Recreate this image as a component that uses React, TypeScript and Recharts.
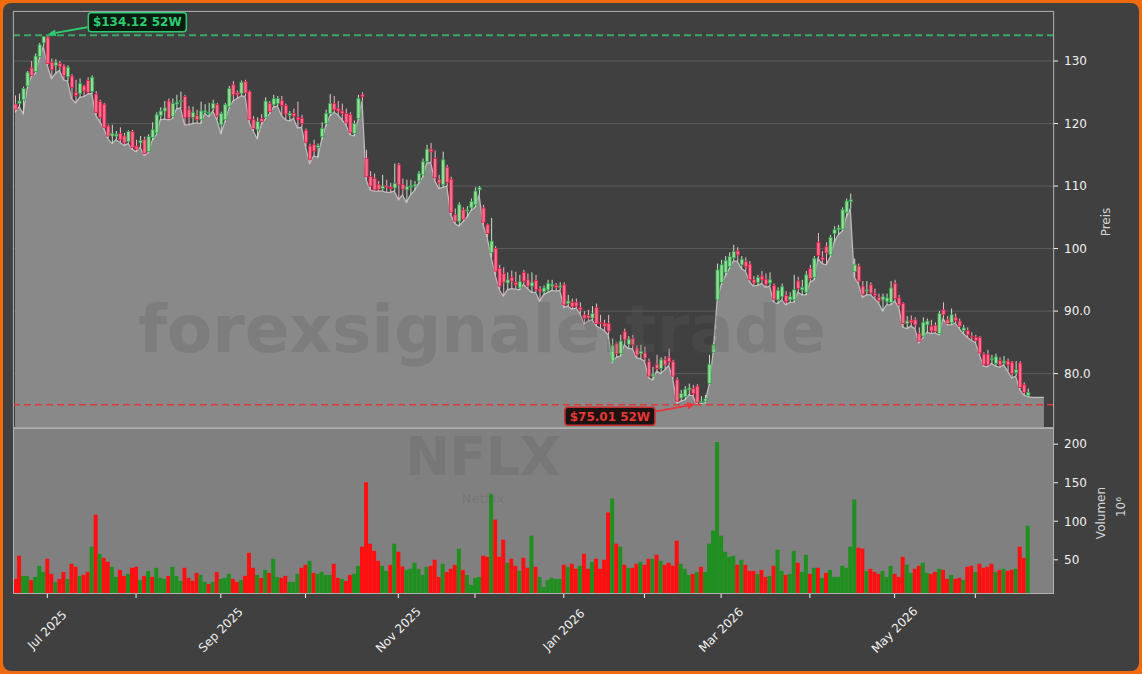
import React from 'react';
import {
  ComposedChart,
  Area,
  Bar,
  XAxis,
  YAxis,
  CartesianGrid,
  ReferenceLine,
  ReferenceDot,
  Cell,
} from 'recharts';

// ---------------- DATA ----------------
const openP = [
  123.1, 123.2, 123.8, 126.0, 128.9, 128.3, 130.7, 132.9, 133.8, 129.8,
  129.3, 129.6, 129.2, 127.5, 127.6, 125.0, 124.8, 126.0, 126.9, 125.1,
  124.7, 123.5, 123.1, 119.6, 118.0, 118.0, 118.4, 118.0, 117.1, 118.7,
  116.4, 116.9, 117.4, 115.5, 117.8, 118.5, 121.3, 122.0, 123.6, 121.1,
  123.1, 123.5, 124.3, 122.2, 121.0, 121.3, 120.6, 121.8, 121.6, 122.4,
  123.0, 119.8, 120.6, 122.7, 126.2, 124.9, 124.8, 126.7, 125.1, 120.6,
  119.0, 120.8, 121.0, 123.2, 123.0, 123.2, 123.7, 122.9, 121.3, 121.6,
  121.0, 120.8, 118.9, 116.4, 116.6, 116.2, 117.9, 120.0, 121.6, 123.2,
  122.4, 122.0, 121.6, 121.4, 118.4, 120.8, 124.6, 114.4, 111.5, 111.2,
  110.2, 109.6, 110.0, 109.8, 109.7, 113.4, 110.2, 109.4, 109.8, 110.0,
  110.8, 111.8, 113.9, 115.9, 114.4, 111.0, 110.2, 113.0, 111.1, 105.4,
  104.3, 106.2, 106.0, 106.5, 107.0, 109.4, 106.5, 103.8, 99.4, 100.0,
  96.8, 96.0, 94.5, 95.4, 94.6, 93.7, 96.2, 95.0, 94.0, 94.9,
  93.5, 93.1, 93.4, 94.0, 94.1, 93.8, 94.2, 91.2, 91.4, 91.4,
  90.6, 89.4, 89.3, 88.9, 90.6, 88.2, 88.0, 88.0, 82.0, 84.8,
  83.2, 86.7, 84.7, 85.6, 84.1, 83.2, 83.3, 81.9, 79.6, 81.5,
  80.8, 82.2, 82.6, 81.9, 79.0, 76.1, 76.3, 77.4, 77.6, 78.0,
  75.4, 75.6, 78.4, 83.4, 91.8, 94.6, 96.2, 97.1, 98.5, 99.6,
  97.4, 97.9, 97.5, 95.0, 94.6, 95.6, 95.1, 94.5, 94.1, 91.8,
  92.3, 92.5, 91.8, 91.8, 94.8, 93.4, 93.0, 96.8, 95.4, 101.0,
  98.6, 100.3, 99.0, 102.4, 103.0, 103.1, 105.8, 107.5, 96.3, 97.2,
  94.0, 93.2, 94.2, 92.8, 92.2, 91.8, 91.5, 91.4, 94.4, 92.1,
  91.2, 88.0, 88.5, 88.6, 86.4, 86.0, 87.8, 87.6, 87.7, 86.4,
  90.2, 88.6, 88.1, 89.0, 88.4, 86.9, 86.9, 86.0, 85.8, 85.8,
  83.1, 83.1, 82.2, 81.6, 82.1, 81.7, 82.0, 81.8, 80.2, 81.7,
  78.2, 76.5,
];

const highP = [
  124.5, 124.8, 125.9, 128.4, 130.0, 131.2, 132.9, 134.0, 134.12, 130.4,
  130.3, 130.0, 129.5, 129.3, 127.9, 127.0, 127.2, 126.2, 127.4, 127.7,
  125.2, 123.8, 123.3, 119.8, 119.8, 118.8, 119.4, 118.5, 118.9, 119.0,
  117.4, 118.0, 117.9, 118.3, 120.2, 121.8, 122.6, 123.6, 124.0, 124.0,
  124.6, 125.1, 124.6, 122.8, 122.7, 122.2, 123.5, 123.1, 123.3, 123.8,
  123.3, 121.9, 123.3, 126.0, 126.8, 125.3, 126.9, 127.0, 125.3, 121.2,
  121.0, 121.5, 124.2, 123.6, 124.6, 124.4, 124.4, 123.2, 122.0, 122.4,
  123.5, 121.4, 119.2, 116.8, 117.4, 116.8, 120.2, 122.2, 124.7, 124.4,
  123.6, 123.2, 122.4, 121.8, 120.5, 124.6, 125.0, 115.8, 112.4, 112.0,
  110.8, 111.8, 111.0, 110.5, 113.6, 113.7, 111.2, 111.0, 111.0, 110.8,
  112.4, 114.4, 116.6, 116.9, 115.7, 111.8, 115.5, 113.4, 111.5, 106.4,
  107.4, 106.6, 106.8, 108.0, 109.8, 110.0, 107.0, 104.0, 104.9, 100.4,
  97.4, 97.0, 96.2, 96.5, 96.3, 95.8, 96.6, 96.0, 96.2, 95.8,
  94.0, 94.1, 95.0, 95.0, 94.5, 94.6, 94.6, 92.6, 92.0, 92.0,
  91.4, 90.0, 90.2, 90.8, 91.2, 89.4, 88.6, 89.4, 85.6, 85.0,
  86.2, 87.2, 86.0, 86.2, 84.5, 84.6, 84.3, 82.4, 81.1, 83.0,
  82.6, 82.8, 84.0, 82.2, 79.4, 77.4, 78.0, 78.4, 78.2, 78.3,
  76.4, 76.6, 83.0, 85.0, 97.6, 98.2, 98.8, 99.4, 100.6, 100.2,
  98.8, 98.6, 98.0, 95.6, 95.8, 96.4, 96.0, 96.2, 94.4, 93.8,
  94.4, 93.2, 93.0, 95.8, 95.5, 95.0, 96.4, 97.4, 98.8, 102.5,
  99.6, 101.0, 102.2, 103.6, 103.8, 106.6, 108.0, 108.8, 98.4, 97.6,
  94.8, 94.8, 94.6, 93.6, 92.8, 92.8, 92.8, 94.8, 95.0, 92.6,
  91.4, 89.2, 89.3, 89.0, 87.4, 89.0, 88.8, 88.6, 88.2, 90.0,
  91.4, 89.2, 90.4, 89.6, 88.8, 87.8, 87.4, 86.6, 86.2, 86.0,
  83.4, 83.8, 83.0, 83.2, 82.6, 82.8, 82.4, 82.0, 82.0, 82.0,
  78.6, 77.6,
];

const lowP = [
  121.8, 122.7, 121.6, 125.6, 127.5, 128.0, 130.4, 132.3, 129.3, 127.2,
  128.0, 128.5, 127.0, 126.8, 124.0, 123.3, 124.2, 124.3, 124.7, 124.8,
  121.3, 120.3, 119.2, 117.6, 116.8, 117.4, 117.0, 116.5, 116.8, 115.9,
  115.5, 116.2, 114.9, 115.3, 117.3, 118.2, 120.6, 120.7, 120.6, 120.8,
  122.3, 122.5, 119.8, 119.8, 120.0, 120.1, 120.0, 121.6, 121.1, 122.0,
  120.6, 118.4, 120.2, 122.4, 123.6, 124.0, 124.4, 124.4, 120.2, 118.8,
  117.6, 119.8, 120.7, 121.5, 122.6, 122.8, 121.3, 120.6, 120.4, 120.8,
  119.3, 119.4, 116.3, 113.6, 114.8, 114.6, 117.4, 119.6, 121.2, 121.8,
  121.4, 120.6, 119.8, 118.2, 118.0, 120.6, 123.6, 111.0, 109.4, 109.2,
  109.2, 109.2, 109.0, 109.0, 109.2, 107.8, 108.6, 107.4, 108.6, 109.3,
  110.4, 111.4, 113.6, 113.8, 110.9, 109.6, 109.8, 110.0, 105.4, 104.0,
  103.6, 104.3, 105.0, 106.1, 106.6, 108.6, 103.8, 101.8, 98.6, 95.8,
  93.4, 92.4, 93.4, 93.6, 93.5, 93.4, 94.3, 93.6, 93.0, 93.0,
  91.6, 92.6, 93.0, 93.3, 93.2, 93.3, 90.6, 90.8, 90.3, 90.5,
  89.6, 87.9, 88.4, 88.6, 87.6, 87.3, 86.9, 86.2, 81.8, 82.6,
  82.8, 84.6, 84.0, 84.0, 82.5, 82.4, 82.0, 79.3, 79.0, 80.4,
  80.0, 80.6, 81.3, 79.2, 75.3, 75.6, 75.8, 76.6, 76.4, 75.01,
  75.2, 75.3, 78.2, 83.2, 91.6, 94.2, 95.6, 96.8, 98.0, 98.0,
  96.8, 96.4, 94.7, 94.0, 94.1, 94.4, 93.8, 94.0, 91.4, 91.2,
  91.8, 91.0, 91.4, 91.4, 93.0, 92.6, 92.6, 94.6, 95.0, 98.4,
  97.6, 97.4, 98.6, 101.0, 102.2, 102.8, 105.0, 106.4, 95.4, 94.4,
  92.2, 92.6, 92.6, 92.0, 91.3, 90.0, 91.0, 91.0, 91.6, 90.6,
  87.4, 87.2, 87.6, 87.2, 84.9, 85.7, 86.6, 86.4, 86.5, 86.2,
  88.8, 87.8, 87.8, 88.1, 87.2, 86.4, 85.8, 85.3, 85.0, 83.0,
  81.2, 81.1, 81.6, 81.2, 81.0, 81.4, 80.4, 79.3, 79.6, 77.4,
  76.6, 76.3,
];

const closeP = [
  122.3, 123.6, 125.6, 128.2, 127.7, 130.8, 132.6, 133.9, 129.6, 128.6,
  129.8, 129.1, 127.7, 129.0, 125.8, 124.5, 126.4, 125.2, 125.0, 127.4,
  121.8, 121.0, 119.4, 118.0, 118.4, 118.3, 117.4, 116.9, 118.7, 116.2,
  115.9, 117.3, 115.2, 117.9, 119.0, 121.4, 122.0, 122.5, 120.8, 123.2,
  123.4, 123.7, 121.0, 121.0, 121.8, 120.6, 122.0, 122.0, 121.8, 123.2,
  121.2, 121.6, 123.0, 125.6, 124.6, 124.6, 126.6, 124.9, 120.6, 119.2,
  120.3, 120.3, 123.6, 121.9, 124.0, 124.0, 122.9, 121.5, 121.6, 121.2,
  120.6, 120.0, 117.0, 114.3, 115.6, 116.5, 119.2, 121.6, 123.2, 122.2,
  122.0, 121.6, 120.1, 118.6, 120.0, 124.0, 124.3, 111.5, 110.0, 109.4,
  109.5, 110.0, 109.8, 109.6, 110.4, 110.2, 109.5, 109.9, 110.0, 110.3,
  112.0, 113.9, 115.9, 115.5, 111.3, 110.5, 114.2, 110.6, 105.8, 104.4,
  107.0, 104.7, 106.2, 107.5, 109.2, 109.8, 104.2, 102.4, 101.2, 96.4,
  94.0, 94.6, 95.0, 94.8, 94.2, 94.7, 94.8, 94.0, 94.6, 93.4,
  93.2, 93.7, 94.4, 94.3, 93.8, 94.0, 91.0, 91.6, 90.7, 90.8,
  90.2, 88.8, 88.9, 89.6, 88.0, 88.0, 87.6, 86.8, 84.5, 83.2,
  85.2, 85.4, 85.5, 84.6, 83.0, 83.6, 82.5, 79.6, 79.9, 80.8,
  82.2, 81.4, 81.9, 79.6, 75.6, 76.8, 77.5, 77.7, 76.8, 75.4,
  75.6, 76.0, 81.5, 84.6, 96.6, 97.4, 98.1, 98.7, 99.5, 99.0,
  98.3, 97.1, 95.0, 94.5, 95.4, 95.0, 94.3, 95.0, 91.9, 93.3,
  93.9, 91.5, 92.3, 93.4, 93.6, 93.8, 95.8, 95.2, 98.4, 98.9,
  98.2, 99.3, 101.8, 103.0, 103.3, 106.2, 107.6, 107.8, 97.4, 94.8,
  92.7, 93.4, 92.9, 92.5, 91.7, 92.3, 92.1, 93.7, 92.0, 91.0,
  88.0, 88.4, 88.2, 87.8, 85.2, 88.2, 88.4, 86.8, 86.7, 89.6,
  89.4, 88.0, 89.4, 88.5, 87.6, 87.3, 86.3, 85.9, 85.3, 83.3,
  81.5, 81.4, 82.4, 82.7, 81.4, 82.0, 81.4, 80.0, 80.6, 77.8,
  77.0, 77.0,
];

// price-area values after the last candle (flat tail seen in the picture)
const tailArea = [76.2, 76.2, 76.2, 76.2];
const emptySlots = 2;

const volume = [
  25.2, 55.2, 29.1, 29.1, 23.9, 27.8, 42.2, 34.3, 51.3, 31.7,
  21.3, 25.2, 34.3, 25.2, 44.8, 40.9, 29.1, 30.4, 34.3, 67.0,
  108.7, 57.8, 52.6, 47.4, 40.9, 27.8, 36.9, 29.1, 31.7, 39.6,
  40.9, 23.9, 29.1, 35.6, 27.8, 39.6, 26.5, 25.2, 29.1, 40.9,
  29.1, 22.6, 39.6, 26.5, 22.6, 33.0, 30.4, 21.3, 18.7, 21.3,
  34.3, 25.2, 26.5, 31.7, 25.2, 21.3, 23.9, 29.1, 59.1, 39.6,
  30.4, 26.5, 36.9, 33.0, 51.3, 27.8, 26.5, 29.1, 21.3, 21.3,
  31.7, 39.6, 43.5, 48.7, 33.0, 31.7, 34.3, 30.4, 30.4, 44.8,
  26.5, 25.2, 22.6, 30.4, 31.7, 42.2, 67.0, 150.5, 70.9, 61.7,
  48.7, 42.2, 35.6, 43.5, 70.9, 60.4, 41.3, 36.9, 38.3, 46.1,
  38.3, 30.4, 40.9, 42.2, 50.0, 27.8, 44.8, 34.3, 38.3, 43.5,
  64.4, 36.9, 30.4, 17.4, 26.5, 27.8, 55.2, 53.9, 134.9, 102.2,
  53.9, 76.1, 46.1, 51.3, 42.2, 35.6, 52.6, 39.6, 81.3, 40.9,
  27.8, 14.8, 23.9, 26.5, 25.2, 25.2, 43.5, 40.9, 44.8, 38.3,
  42.2, 57.8, 38.3, 47.4, 51.3, 38.3, 50.0, 111.4, 129.6, 70.9,
  67.0, 43.5, 39.6, 39.6, 44.8, 47.4, 43.5, 51.3, 51.3, 56.5,
  48.7, 43.5, 46.1, 42.2, 74.8, 44.8, 38.3, 30.4, 31.7, 34.3,
  40.9, 34.3, 70.9, 87.9, 202.7, 81.3, 60.4, 53.9, 55.2, 43.5,
  50.0, 43.5, 35.6, 35.6, 31.7, 36.9, 27.8, 29.1, 42.2, 63.1,
  35.6, 30.4, 31.7, 61.7, 46.1, 34.3, 56.5, 31.7, 39.6, 39.6,
  26.5, 33.0, 36.9, 27.8, 27.8, 42.2, 39.6, 67.0, 128.3, 65.7,
  64.4, 35.6, 38.3, 34.3, 31.7, 35.6, 27.8, 42.2, 31.7, 27.8,
  53.9, 43.5, 33.0, 38.3, 42.2, 46.1, 33.0, 31.7, 34.3, 38.3,
  36.9, 25.2, 30.4, 25.2, 26.5, 23.9, 40.9, 42.2, 34.3, 44.8,
  39.6, 40.9, 44.8, 34.3, 36.9, 38.3, 35.6, 36.9, 38.3, 67.0,
  52.6, 94.3,
];

// u = green (up) volume bar, d = red (down) volume bar
const volumeDirection = [
  'dduuduuudd', 'uddudduddu', 'dudduuddud', 'dududuuudu', 'uudddduudu',
  'duuudduddd', 'ududuudduu', 'udduduuuud', 'dudduudddd', 'duududduuu',
  'uuuddduddd', 'uduuuuddud', 'ddudduddud', 'uuuuuududd', 'udduddddud',
  'ududduddud', 'udddduuudu', 'duuuuuuuud', 'uddduddudu', 'uduuduudud',
  'uduuuuuuud', 'duddduuudd', 'duudduuddu', 'ddudduddud', 'dddududdud',
  'du',
].join('');

const monthTickIdx = [8, 30, 51, 72, 95, 114, 136, 156, 175, 197, 218, 238];
const monthTickLabels = ['Jul 2025', '', 'Sep 2025', '', 'Nov 2025', '', 'Jan 2026', '', 'Mar 2026', '', 'May 2026', ''];

const priceTicks = [80, 90, 100, 110, 120, 130];
const priceTickLabels = ['80.0', '90.0', '100', '110', '120', '130'];
const priceDomain = [71.3, 138.0];

const volumeTicks = [50, 100, 150, 200];
const volumeDomain = [5.6, 221.0];

const high52 = 134.12;
const high52Idx = 8;
const low52 = 75.01;
const low52Idx = 169;

const watermark = 'forexsignale.trade';
const tickerName = 'NFLX';
const companyName = 'Netflix';

// ---------------- DERIVED TABLES ----------------
const totalSlots = openP.length + tailArea.length + emptySlots;
const priceData = Array.from({ length: totalSlots }, (_, i) => {
  if (i < openP.length) {
    return { i, o: openP[i], h: highP[i], l: lowP[i], c: closeP[i], range: [lowP[i], highP[i]], a: lowP[i] };
  }
  const t = i - openP.length;
  if (t < tailArea.length) return { i, a: tailArea[t] };
  return { i };
});
const volumeData = Array.from({ length: totalSlots }, (_, i) =>
  i < volume.length ? { i, v: volume[i], up: volumeDirection[i] === 'u' } : { i }
);

// ---------------- LAYOUT ----------------
const FONT = "'DejaVu Sans', sans-serif";
const W = 1142;
const H = 674;
const PLOT_LEFT = 13;
const PLOT_RIGHT = 1054;
const PRICE_TOP = 11;
const PRICE_BOTTOM = 428;
const VOL_BOTTOM = 594;
const AXIS_W = 60;
const RIGHT_MARGIN = W - PLOT_RIGHT - AXIS_W;
const PRICE_CHART_H = PRICE_BOTTOM + 12;
const VOL_CHART_TOP = PRICE_BOTTOM - 8;

const BG = '#404040';
const TICK_COLOR = '#f0f0f0';
const LABEL_COLOR = '#d4d4d4';
const GREEN = '#2ecc71';
const RED = '#e53935';

const Candle = (props: any) => {
  const { x, y, width, height, payload } = props;
  if (!payload || payload.o == null) return null;
  const { o, h, l, c } = payload;
  const top = Math.min(y, y + height);
  const hh = Math.abs(height);
  const k = h - l > 0 ? hh / (h - l) : 0;
  const py = (v: number) => top + (h - v) * k;
  const up = c >= o;
  const cx = x + width / 2;
  const yb1 = py(Math.max(o, c));
  const yb2 = py(Math.min(o, c));
  const bh = Math.max(yb2 - yb1, 1);
  return (
    <g>
      <line x1={cx} x2={cx} y1={top} y2={top + hh} stroke={up ? '#c4e4c4' : '#f2b3c2'} strokeWidth={1} />
      <rect
        x={cx - 1.6}
        y={yb1}
        width={3.2}
        height={bh}
        fill={up ? '#92de92' : '#f4708e'}
        stroke={up ? '#2f9e52' : '#dc1e4a'}
        strokeWidth={0.8}
      />
    </g>
  );
};

const Arrow = ({ x1, y1, x2, y2, color }: any) => {
  const dx = x2 - x1;
  const dy = y2 - y1;
  const len = Math.hypot(dx, dy) || 1;
  const ux = dx / len;
  const uy = dy / len;
  const hl = 8;
  const hw = 3.5;
  const bx = x2 - ux * hl;
  const by = y2 - uy * hl;
  const pts = `${x2},${y2} ${bx - uy * hw},${by + ux * hw} ${bx + uy * hw},${by - ux * hw}`;
  return (
    <g>
      <line x1={x1} y1={y1} x2={bx} y2={by} stroke={color} strokeWidth={1.8} />
      <polygon points={pts} fill={color} />
    </g>
  );
};

const HighMarker = (props: any) => {
  const { cx, cy } = props;
  if (cx == null || cy == null) return null;
  return (
    <g>
      <Arrow x1={cx + 40} y1={cy - 8} x2={cx + 0.5} y2={cy - 1} color={GREEN} />
      <rect x={cx + 41} y={cy - 22.5} width={98} height={19} rx={3} fill="#0c1c12" stroke={GREEN} strokeWidth={1.5} />
      <text
        x={cx + 90}
        y={cy - 13}
        textAnchor="middle"
        dominantBaseline="central"
        fill={GREEN}
        fontSize={12}
        fontWeight="bold"
        fontFamily={FONT}
      >
        {`$${high52.toFixed(2)} 52W`}
      </text>
    </g>
  );
};

const LowMarker = (props: any) => {
  const { cx, cy } = props;
  if (cx == null || cy == null) return null;
  return (
    <g>
      <Arrow x1={cx - 41} y1={cy + 6.5} x2={cx - 1.5} y2={cy - 0.5} color="#e8363a" />
      <rect x={cx - 132} y={cy + 2.5} width={90} height={18} rx={3} fill="#1c1212" stroke="#c93030" strokeWidth={1.5} />
      <text
        x={cx - 87}
        y={cy + 11.7}
        textAnchor="middle"
        dominantBaseline="central"
        fill={RED}
        fontSize={12}
        fontWeight="bold"
        fontFamily={FONT}
      >
        {`$${low52.toFixed(2)} 52W`}
      </text>
    </g>
  );
};

const MonthTick = (props: any) => {
  const { x, y, payload } = props;
  const k = monthTickIdx.indexOf(payload.value);
  const label = k >= 0 ? monthTickLabels[k] : '';
  return (
    <g>
      <line x1={x} x2={x} y1={y} y2={y + 4} stroke={TICK_COLOR} strokeWidth={1} />
      {label ? (
        <text
          transform={`translate(${x},${y + 36}) rotate(-45)`}
          textAnchor="middle"
          dominantBaseline="central"
          fill={TICK_COLOR}
          fontSize={12}
          fontFamily={FONT}
        >
          {label}
        </text>
      ) : null}
    </g>
  );
};

const axisTick = { fill: TICK_COLOR, fontSize: 12, fontFamily: FONT };

export default function App() {
  return (
    <div style={{ position: 'absolute', left: 0, top: 0, width: W, height: H, background: '#f06a10', overflow: 'hidden' }}>
      <div style={{ position: 'absolute', left: 3, top: 3, width: W - 6, height: H - 6, background: BG, borderRadius: 8 }} />

      {/* price panel */}
      <div style={{ position: 'absolute', left: 0, top: 0 }}>
        <ComposedChart
          width={W}
          height={PRICE_CHART_H}
          data={priceData}
          margin={{ top: PRICE_TOP, right: RIGHT_MARGIN, bottom: PRICE_CHART_H - PRICE_BOTTOM - 1, left: PLOT_LEFT }}
        >
          <CartesianGrid stroke="#5c5c5c" strokeWidth={1} />
          <XAxis
            dataKey="i"
            type="category"
            ticks={monthTickIdx}
            interval={0}
            height={1}
            tick={false}
            tickLine={false}
            axisLine={false}
          />
          <YAxis
            orientation="right"
            type="number"
            domain={priceDomain}
            allowDataOverflow
            ticks={priceTicks}
            interval={0}
            width={AXIS_W}
            tick={axisTick}
            tickFormatter={(v: number) => priceTickLabels[priceTicks.indexOf(v)] ?? String(v)}
            tickLine={{ stroke: TICK_COLOR }}
            tickSize={4}
            tickMargin={6}
            axisLine={false}
          />
          <Area
            dataKey="a"
            type="linear"
            stroke="#bcbcbc"
            strokeWidth={1.3}
            fill="#898989"
            fillOpacity={1}
            isAnimationActive={false}
            dot={false}
            activeDot={false}
          />
          <Bar dataKey="range" barSize={3} shape={<Candle />} isAnimationActive={false} />
          <ReferenceLine y={high52} stroke="#3aa866" strokeWidth={1.8} strokeDasharray="7 4" />
          <ReferenceLine y={low52} stroke="#dc3b3b" strokeWidth={1.6} strokeDasharray="7 4" />
          <ReferenceDot x={high52Idx} y={high52} r={0} shape={<HighMarker />} ifOverflow="visible" />
          <ReferenceDot x={low52Idx} y={low52} r={0} shape={<LowMarker />} ifOverflow="visible" />
        </ComposedChart>
      </div>

      {/* volume panel */}
      <div style={{ position: 'absolute', left: 0, top: VOL_CHART_TOP }}>
        <ComposedChart
          width={W}
          height={H - VOL_CHART_TOP}
          data={volumeData}
          barCategoryGap={0}
          barGap={0}
          margin={{ top: PRICE_BOTTOM - VOL_CHART_TOP, right: RIGHT_MARGIN, bottom: 0, left: PLOT_LEFT }}
        >
          <CartesianGrid fill="#808080" horizontal={false} vertical={false} />
          <XAxis
            dataKey="i"
            type="category"
            ticks={monthTickIdx}
            interval={0}
            height={H - VOL_BOTTOM}
            tick={<MonthTick />}
            tickLine={false}
            tickSize={0}
            tickMargin={0}
            axisLine={false}
          />
          <YAxis
            orientation="right"
            type="number"
            domain={volumeDomain}
            allowDataOverflow
            ticks={volumeTicks}
            interval={0}
            width={AXIS_W}
            tick={axisTick}
            tickLine={{ stroke: TICK_COLOR }}
            tickSize={4}
            tickMargin={6}
            axisLine={false}
          />
          <Bar dataKey="v" isAnimationActive={false}>
            {volumeData.map((d: any) => (
              <Cell key={d.i} fill={d.up ? '#1f8f1f' : '#ff1010'} />
            ))}
          </Bar>
        </ComposedChart>
      </div>

      {/* frames, watermarks, axis titles */}
      <svg width={W} height={H} style={{ position: 'absolute', left: 0, top: 0, pointerEvents: 'none' }}>
        <rect x={PLOT_LEFT + 0.5} y={PRICE_TOP + 0.5} width={PLOT_RIGHT - PLOT_LEFT - 1} height={PRICE_BOTTOM - PRICE_TOP - 1} fill="none" stroke="#a4a4a4" strokeWidth={1} />
        <rect x={PLOT_LEFT + 0.5} y={PRICE_BOTTOM + 0.5} width={PLOT_RIGHT - PLOT_LEFT - 1} height={VOL_BOTTOM - PRICE_BOTTOM - 1} fill="none" stroke="#b0b0b0" strokeWidth={1} />
        <text x={482} y={352} textAnchor="middle" fontSize={66} fontWeight="bold" fontFamily={FONT} fill="rgba(90,90,90,0.25)">
          {watermark}
        </text>
        <text x={483} y={475} textAnchor="middle" fontSize={53} fontWeight="bold" fontFamily={FONT} fill="rgba(90,90,90,0.25)">
          {tickerName}
        </text>
        <text x={483} y={503} textAnchor="middle" fontSize={13} fontFamily={FONT} fill="rgba(90,90,90,0.25)">
          {companyName}
        </text>
        <text transform="translate(1106,222) rotate(-90)" textAnchor="middle" dominantBaseline="central" fontSize={12} fontFamily={FONT} fill={LABEL_COLOR}>
          Preis
        </text>
        <text transform="translate(1101,513) rotate(-90)" textAnchor="middle" dominantBaseline="central" fontSize={12} fontFamily={FONT} fill={LABEL_COLOR}>
          Volumen
        </text>
        <text transform="translate(1121,507) rotate(-90)" textAnchor="middle" dominantBaseline="central" fontSize={12} fontFamily={FONT} fill={LABEL_COLOR}>
          10⁶
        </text>
      </svg>
    </div>
  );
}
